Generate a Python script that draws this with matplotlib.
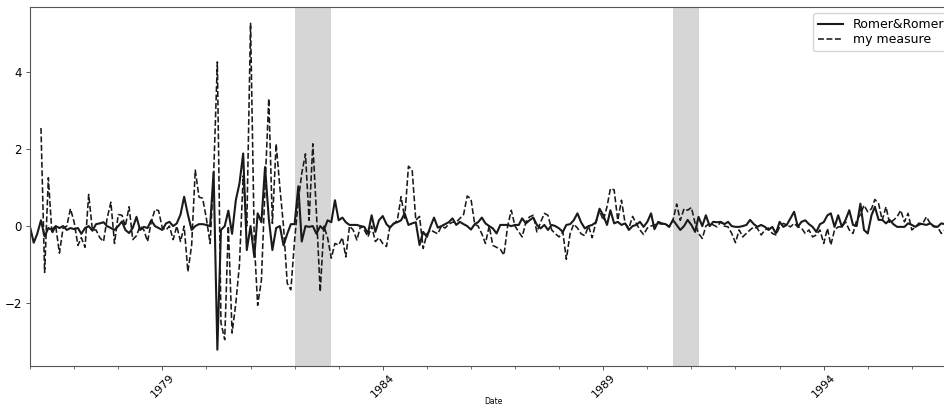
import numpy as np
import pandas as pd
import matplotlib
matplotlib.use("Agg")
import matplotlib.pyplot as plt
import matplotlib.dates as mdates

start_date = "1976-01-01"

romer = [
    -0.02, -0.43, -0.2, 0.15, -0.27, -0.05, -0.1, 0.0, -0.05, 0.0,
    -0.1, -0.05, -0.08, -0.05, -0.2, -0.05, 0.0, -0.12, 0.05, 0.07,
    0.1, 0.0, -0.05, -0.1, 0.0, 0.12, -0.1, -0.18, -0.05, 0.24,
    -0.1, -0.02, -0.05, 0.15, 0.0, -0.05, -0.1, 0.07, 0.11, 0.0,
    0.07, 0.3, 0.76, 0.3, -0.1, 0.0, 0.05, 0.05, 0.03, 0.0,
    1.4, -3.2, -0.1, 0.0, 0.4, -0.2, 0.67, 1.1, 1.88, -0.62,
    0.0, -0.8, 0.33, 0.1, 1.53, 0.2, -0.62, -0.05, 0.0, -0.5,
    -0.2, 0.05, 0.05, 1.03, -0.4, 0.0, -0.02, 0.0, -0.2, 0.0,
    -0.1, 0.15, 0.1, 0.67, 0.15, 0.22, 0.1, 0.03, 0.03, 0.03,
    0.0, -0.02, -0.19, 0.28, -0.15, 0.15, 0.26, 0.05, -0.04, 0.07,
    0.1, 0.15, 0.33, 0.03, 0.07, 0.1, -0.49, -0.15, -0.28, 0.0,
    0.22, -0.04, 0.0, 0.05, 0.1, 0.2, 0.03, 0.11, 0.05, 0.0,
    -0.09, 0.05, 0.1, 0.22, 0.07, 0.0, -0.06, -0.19, 0.03, 0.03,
    0.03, 0.0, 0.03, 0.03, 0.2, 0.07, 0.15, 0.22, 0.03, -0.06,
    0.03, -0.1, 0.03, 0.0, -0.06, -0.15, 0.03, 0.05, 0.15, 0.33,
    0.1, -0.06, 0.0, 0.03, 0.1, 0.45, 0.28, 0.03, 0.41, 0.07,
    0.11, 0.03, 0.07, -0.1, 0.0, 0.03, 0.11, -0.02, 0.11, 0.33,
    -0.08, 0.11, 0.07, 0.05, -0.02, 0.16, 0.03, -0.1, 0.0, 0.16,
    0.03, -0.15, 0.24, 0.0, 0.28, 0.0, 0.11, 0.1, 0.11, 0.05,
    0.11, 0.0, -0.02, -0.02, 0.0, 0.03, 0.16, 0.05, -0.02, 0.03,
    -0.02, -0.1, -0.02, -0.19, 0.11, -0.02, 0.03, 0.2, 0.37, -0.02,
    0.11, 0.15, 0.05, -0.02, -0.15, 0.05, 0.1, 0.28, 0.33, -0.02,
    0.28, -0.02, 0.16, 0.41, 0.03, 0.0, 0.58, -0.1, -0.19, 0.28,
    0.5, 0.16, 0.16, 0.07, 0.16, 0.05, -0.02, -0.02, -0.02, 0.07,
    0.03, -0.02, 0.07, 0.05, 0.03, 0.07, 0.0, -0.02, 0.07, 0.05,
    -0.1, 0.03, 0.0,
]

my_measure = [
    np.nan, np.nan, np.nan, 2.54, -1.2, 1.25, -0.2, 0.0, -0.7, -0.05,
    0.0, 0.45, 0.1, -0.5, -0.3, -0.55, 0.82, -0.1, -0.1, -0.3,
    -0.4, 0.2, 0.62, -0.45, 0.3, 0.28, 0.0, 0.5, -0.35, -0.25,
    0.0, -0.1, -0.4, 0.1, 0.43, 0.4, -0.05, -0.1, 0.0, -0.35,
    0.0, -0.4, 0.0, -1.18, -0.5, 1.45, 0.75, 0.72, 0.2, -0.45,
    1.3, 4.25, -2.5, -2.94, 0.0, -2.77, -2.0, -1.0, 1.3, 0.0,
    5.25, -0.4, -2.05, -1.4, 1.0, 3.3, 0.07, 2.13, 1.0, 0.0,
    -1.48, -1.65, -0.36, 0.67, 1.36, 1.87, 0.15, 2.13, 0.33, -1.7,
    0.0, -0.3, -0.83, -0.45, -0.49, -0.3, -0.8, 0.0, -0.1, -0.36,
    0.0, -0.1, -0.28, 0.0, -0.4, -0.3, -0.45, -0.53, 0.0, 0.05,
    0.15, 0.76, 0.2, 1.55, 1.45, 0.15, 0.25, -0.58, -0.2, -0.1,
    -0.15, -0.2, 0.0, -0.05, 0.05, 0.1, 0.1, 0.2, 0.3, 0.78,
    0.7, 0.05, 0.0, -0.2, -0.45, 0.0, -0.5, -0.55, -0.6, -0.75,
    0.0, 0.41, 0.0, -0.15, -0.28, 0.1, 0.24, 0.28, -0.15, 0.1,
    0.33, 0.28, -0.1, -0.2, -0.28, -0.15, -0.86, -0.2, 0.05, -0.05,
    -0.2, -0.25, 0.0, -0.3, 0.1, 0.4, 0.15, 0.5, 0.97, 0.94,
    0.15, 0.67, 0.07, -0.05, 0.25, 0.07, -0.1, -0.22, -0.05, 0.0,
    0.03, 0.07, 0.05, 0.07, -0.02, 0.15, 0.57, 0.15, 0.45, 0.41,
    0.48, 0.07, -0.19, -0.32, 0.0, 0.07, 0.03, -0.02, 0.11, 0.0,
    -0.02, -0.19, -0.43, -0.1, -0.28, -0.19, -0.1, -0.02, -0.06, -0.23,
    -0.1, -0.05, -0.19, -0.23, -0.02, 0.07, 0.03, -0.02, 0.07, -0.02,
    -0.05, -0.19, -0.1, -0.28, -0.23, -0.1, -0.45, -0.06, -0.49, -0.1,
    -0.02, -0.02, 0.11, -0.1, -0.19, 0.15, 0.3, 0.54, 0.37, 0.45,
    0.69, 0.58, 0.15, 0.5, 0.07, 0.15, 0.24, 0.41, 0.11, 0.33,
    -0.1, -0.02, 0.03, 0.07, 0.24, 0.07, -0.02, -0.02, -0.19, -0.1,
    0.05, -0.05, 0.02,
]

recessions = [("1982-01-01", "1982-11-01"), ("1990-08-01", "1991-03-01")]
major_tick_years = [1979, 1984, 1989, 1994]
series_labels = ["Romer&Romer", "my measure"]

dates = pd.date_range(start_date, periods=len(romer), freq="MS")

W, H = 944, 407
fig = plt.figure(figsize=(W / 100, H / 100), dpi=100)
left_px, right_px, top_px, bottom_px = 30, 956, 7, 366
ax = fig.add_axes([left_px / W, 1 - bottom_px / H,
                   (right_px - left_px) / W, (bottom_px - top_px) / H])

for s, e in recessions:
    ax.axvspan(pd.Timestamp(s), pd.Timestamp(e), color="#d6d6d6", lw=0, zorder=0)

ax.plot(dates, romer, color="#1a1a1a", lw=1.5, ls="-", label=series_labels[0])
ax.plot(dates, my_measure, color="#1a1a1a", lw=1.15, ls="--", label=series_labels[1])

ax.set_xlim(dates[0], dates[-1])
ax.set_xticks([pd.Timestamp(f"{y}-01-01") for y in major_tick_years])
ax.set_xticklabels([str(y) for y in major_tick_years], rotation=45,
                   ha="center", fontsize=8)
ax.xaxis.set_minor_locator(mdates.YearLocator(1))
ax.tick_params(axis="both", which="major", length=3, width=0.7, pad=1.5,
               color="#555555")
ax.tick_params(axis="x", which="minor", length=2, width=0.6, color="#555555")
ax.tick_params(axis="y", labelsize=8.5, pad=3)
ax.set_xlabel("Date", fontsize=5.5)
ax.xaxis.set_label_coords(0.5, (bottom_px - 397) / (bottom_px - top_px))

for sp in ax.spines.values():
    sp.set_color("#555555")
    sp.set_linewidth(0.8)

ax.legend(loc="upper right", fontsize=9, frameon=True, handlelength=2.0,
          borderaxespad=0.5, labelspacing=0.15, handletextpad=0.8)

fig.savefig("out.png", dpi=100)
